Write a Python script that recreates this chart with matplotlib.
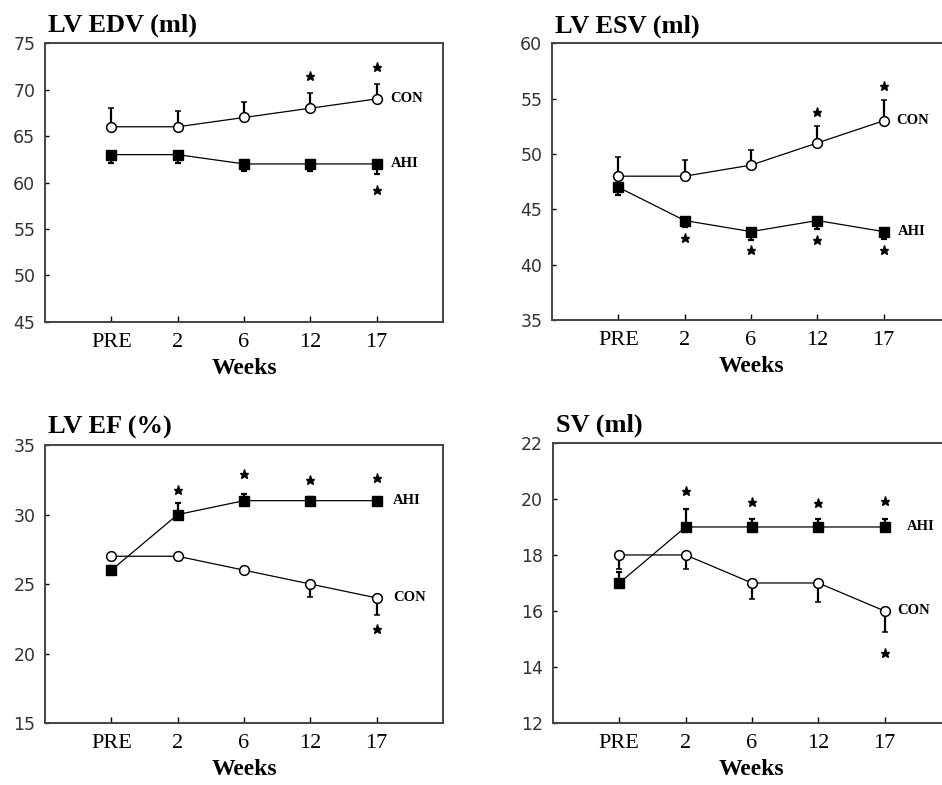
import matplotlib
matplotlib.use('Agg')
import matplotlib.pyplot as plt
import numpy as np

# time points shown on every panel
weeks = ['PRE', '2', '6', '12', '17']
xpos = np.arange(len(weeks))

# LV EDV (ml)
edv_con = [66, 66, 67, 68, 69]
edv_con_err = [2.0, 1.7, 1.7, 1.66, 1.6]
edv_ahi = [63, 63, 62, 62, 62]
edv_ahi_err = [0.9, 0.9, 0.8, 0.8, 1.1]
edv_star_x = [3, 4, 4]
edv_star_y = [71.45, 72.45, 59.2]

# LV ESV (ml)
esv_con = [48, 48, 49, 51, 53]
esv_con_err = [1.7, 1.44, 1.34, 1.5, 1.86]
esv_ahi = [47, 44, 43, 44, 43]
esv_ahi_err = [0.7, 0.6, 0.8, 0.76, 0.7]
esv_star_x = [3, 4, 1, 2, 3, 4]
esv_star_y = [53.8, 56.1, 42.46, 41.38, 42.28, 41.38]

# LV EF (%)
ef_con = [27, 27, 26, 25, 24]
ef_con_err = [0.3, 0.3, 0.3, 0.9, 1.23]
ef_ahi = [26, 30, 31, 31, 31]
ef_ahi_err = [0.3, 0.85, 0.5, 0.3, 0.2]
ef_star_x = [1, 2, 3, 4, 4]
ef_star_y = [31.8, 32.9, 32.5, 32.6, 21.8]

# SV (ml)
sv_con = [18, 18, 17, 17, 16]
sv_con_err = [0.5, 0.5, 0.57, 0.67, 0.76]
sv_ahi = [17, 19, 19, 19, 19]
sv_ahi_err = [0.4, 0.63, 0.3, 0.3, 0.3]
sv_star_x = [1, 2, 3, 4, 4]
sv_star_y = [20.29, 19.9, 19.85, 19.93, 14.49]

serif = 'Liberation Serif'
sans = 'DejaVu Sans'

fig = plt.figure(figsize=(9.42, 7.85), dpi=100)

panels = [
    # title, rect, ylim, yticks, con, con_err, ahi, ahi_err, con up?, stars, label offsets
    ('LV EDV (ml)', [0.0478, 0.590, 0.4225, 0.355], (45, 75), np.arange(45, 76, 5),
     edv_con, edv_con_err, edv_ahi, edv_ahi_err, True, edv_star_x, edv_star_y, (10, 10)),
    ('LV ESV (ml)', [0.586, 0.592, 0.4225, 0.353], (35, 60), np.arange(35, 61, 5),
     esv_con, esv_con_err, esv_ahi, esv_ahi_err, True, esv_star_x, esv_star_y, (9, 10)),
    ('LV EF (%)', [0.0478, 0.079, 0.4225, 0.354], (15, 35), np.arange(15, 36, 5),
     ef_con, ef_con_err, ef_ahi, ef_ahi_err, False, ef_star_x, ef_star_y, (12, 12)),
    ('SV (ml)', [0.587, 0.079, 0.4225, 0.3567], (12, 22), np.arange(12, 23, 2),
     sv_con, sv_con_err, sv_ahi, sv_ahi_err, False, sv_star_x, sv_star_y, (9, 16)),
]

for (title, rect, ylim, yticks, con, con_err, ahi, ahi_err, con_up,
     sx, sy, offs) in panels:
    ax = fig.add_axes(rect)
    zeros = np.zeros(len(xpos))
    if con_up:
        con_yerr = [zeros, con_err]
        ahi_yerr = [ahi_err, zeros]
    else:
        con_yerr = [con_err, zeros]
        ahi_yerr = [zeros, ahi_err]

    ax.errorbar(xpos, ahi, yerr=ahi_yerr, color='black', lw=0.9, marker='s',
                ms=6.5, mfc='black', mec='black', ecolor='black', elinewidth=1.6,
                capsize=2.5, capthick=1.6, zorder=3)
    ax.errorbar(xpos, con, yerr=con_yerr, color='black', lw=0.9, marker='o',
                ms=7, mfc='white', mec='black', mew=1.1, ecolor='black',
                elinewidth=1.6, capsize=2.5, capthick=1.6, zorder=4)
    ax.plot(sx, sy, linestyle='none', marker='*', ms=6.5, color='black', zorder=5)

    ax.annotate('CON', (xpos[-1], con[-1]), xytext=(offs[0], 0),
                textcoords='offset points', va='center', ha='left',
                fontsize=10.5, fontweight='bold', family=serif)
    ax.annotate('AHI', (xpos[-1], ahi[-1]), xytext=(offs[1], 0),
                textcoords='offset points', va='center', ha='left',
                fontsize=10.5, fontweight='bold', family=serif)

    ax.set_xlim(-1, 5)
    ax.set_ylim(*ylim)
    ax.set_xticks(xpos)
    ax.set_xticklabels(weeks, family=serif, fontsize=16)
    ax.set_yticks(yticks)
    ax.set_yticklabels([str(v) for v in yticks], family=sans, fontsize=12.5,
                       color='#333333')
    ax.tick_params(axis='x', direction='in', length=4, width=1, pad=8)
    ax.tick_params(axis='y', direction='in', length=3, width=1, pad=7)
    for sp in ax.spines.values():
        sp.set_linewidth(1.4)
        sp.set_color('#444444')
    ax.set_xlabel('Weeks', family=serif, fontsize=17, fontweight='bold',
                  labelpad=4)
    ax.text(0.008, 1.04, title, transform=ax.transAxes, ha='left',
            va='baseline', family=serif, fontsize=19, fontweight='bold')

fig.savefig('out.png', dpi=100)
